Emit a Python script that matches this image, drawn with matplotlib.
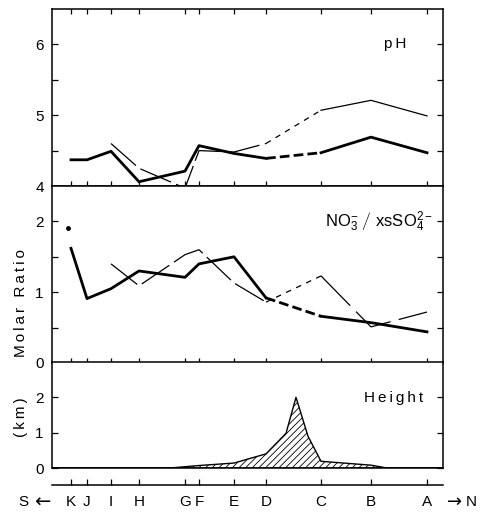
import matplotlib
matplotlib.use("Agg")
import matplotlib.pyplot as plt
import numpy as np

plt.rcParams['font.family'] = ['Liberation Sans', 'DejaVu Sans']
plt.rcParams['mathtext.fontset'] = 'custom'
plt.rcParams['mathtext.rm'] = 'Liberation Sans'
plt.rcParams['mathtext.it'] = 'Liberation Sans'
plt.rcParams['mathtext.default'] = 'regular'
plt.rcParams['lines.scale_dashes'] = False
plt.rcParams['hatch.linewidth'] = 0.6

# ---- data ----
stations = ['K', 'J', 'I', 'H', 'G', 'F', 'E', 'D', 'C', 'B', 'A']
station_dist = [19, 35, 59, 87, 133, 147, 182, 214, 269, 319, 375]
track_len = 391

ph_thick = [4.37, 4.37, 4.49, 4.06, 4.21, 4.57, 4.46, 4.39, 4.47, 4.69, 4.47]
ph_thin = [4.60, 4.25, 3.97, 4.50, 4.48, 4.60, 5.07, 5.21, 4.99]   # stations I..A

ratio_thick = [1.62, 0.91, 1.05, 1.30, 1.21, 1.40, 1.50, 0.92, 0.66, 0.57, 0.44]
ratio_thin = [1.40, 1.09, 1.53, 1.60, 1.13, 0.86, 1.23, 0.51, 0.72]  # stations I..A
ratio_dot_K = 1.90

height_dist = [0, 118, 147, 182, 214, 234, 244, 256, 269, 319, 335, 391]
height_km = [0, 0, 0.07, 0.14, 0.40, 0.98, 2.0, 0.90, 0.19, 0.08, 0.0, 0.0]

# ---- figure ----
W, H = 488, 513
fig = plt.figure(figsize=(W / 100, H / 100), dpi=100)
L, R = 52, 443

def axrect(top, bottom):
    return [L / W, 1 - bottom / H, (R - L) / W, (bottom - top) / H]

def spaced(s):
    return '\u2009'.join(s)

ax1 = fig.add_axes(axrect(9, 186))
ax2 = fig.add_axes(axrect(186, 363))
ax3 = fig.add_axes(axrect(362, 468))

TH, TN = 2.0, 0.9
x = np.array(station_dist)
xt = x[2:]

def style(ax, top_ticks, bottom_ticks):
    for s in ax.spines.values():
        s.set_linewidth(1.1)
    ax.set_xlim(0, track_len)
    ax.set_xticks(station_dist)
    ax.tick_params(axis='x', direction='in', length=3.6, width=0.9,
                   top=top_ticks, bottom=bottom_ticks, labelbottom=False)
    ax.tick_params(axis='y', which='both', direction='in', length=4.5, width=0.9,
                   left=True, right=True, labelsize=11, pad=6)

# top panel: pH
ax1.plot(x[:8], ph_thick[:8], color='black', lw=TH)
ax1.plot(x[7:9], ph_thick[7:9], color='black', lw=TH, dashes=(7, 3))
ax1.plot(x[8:], ph_thick[8:], color='black', lw=TH)
ax1.plot(xt[:6], ph_thin[:6], color='black', lw=TN, dashes=(24, 4), clip_on=False)
ax1.plot(xt[5:7], ph_thin[5:7], color='black', lw=TN, dashes=(4, 4))
ax1.plot(xt[6:], ph_thin[6:], color='black', lw=TN)
ax1.set_ylim(4, 6.5)
ax1.set_yticks([4, 5, 6])
ax1.set_yticks([4.5, 5.5], minor=True)
style(ax1, True, True)
ax1.text(0.877, 0.80, spaced('pH'), transform=ax1.transAxes, ha='center', va='center', fontsize=11)

# middle panel: molar ratio
ax2.plot(x[:8], ratio_thick[:8], color='black', lw=TH)
ax2.plot(x[7:9], ratio_thick[7:9], color='black', lw=TH, dashes=(7, 3))
ax2.plot(x[8:], ratio_thick[8:], color='black', lw=TH)
ax2.plot(xt[:6], ratio_thin[:6], color='black', lw=TN, dashes=(24, 4))
ax2.plot(xt[5:7], ratio_thin[5:7], color='black', lw=TN, dashes=(4, 4))
ax2.plot(xt[6:], ratio_thin[6:], color='black', lw=TN, dashes=(30, 6))
ax2.plot([x[0] - 3], [ratio_dot_K], 'o', color='black', ms=2.5)
ax2.set_ylim(0, 2.5)
ax2.set_yticks([0, 1, 2])
ax2.set_yticks([0.5, 1.5], minor=True)
style(ax2, False, True)
ax2.text(0.975, 0.80, r'$\mathrm{NO_3^{-}}\ \left/\ \mathrm{xsSO_4^{2-}}\right.$',
         transform=ax2.transAxes, ha='right', va='center', fontsize=12)

# bottom panel: height
ax3.fill_between(height_dist, 0, height_km, facecolor='white', edgecolor='black',
                 hatch='/////', linewidth=1.0)
ax3.set_ylim(0, 3)
ax3.set_yticks([0, 1, 2])
style(ax3, False, False)
ax3.text(0.873, 0.66, spaced('Height'), transform=ax3.transAxes, ha='center', va='center', fontsize=11)

# station axis
ax4 = fig.add_axes([L / W, 1 - 485 / H, (R - L) / W, 0.0001])
for k in ['left', 'right', 'top']:
    ax4.spines[k].set_visible(False)
ax4.spines['bottom'].set_linewidth(1.1)
ax4.set_xlim(0, track_len)
ax4.set_yticks([])
ax4.set_xticks(station_dist)
ax4.set_xticklabels(stations)
ax4.tick_params(axis='x', direction='in', length=4.5, width=0.9, labelsize=11, pad=7)

fig.text(23 / W, 1 - 502 / H, 'S', ha='center', va='center', fontsize=11)
fig.text(42 / W, 1 - 502 / H, '\u2190', ha='center', va='center', fontsize=14, family='DejaVu Sans')
fig.text(455 / W, 1 - 502 / H, '\u2192', ha='center', va='center', fontsize=13, family='DejaVu Sans')
fig.text(471 / W, 1 - 502 / H, 'N', ha='center', va='center', fontsize=11)

fig.text(21 / W, 1 - 303 / H, spaced('Molar Ratio'), rotation=90, ha='center', va='center', fontsize=11)
fig.text(21 / W, 1 - 417 / H, spaced('(km)'), rotation=90, ha='center', va='center', fontsize=11)

fig.savefig('out.png', dpi=100)
